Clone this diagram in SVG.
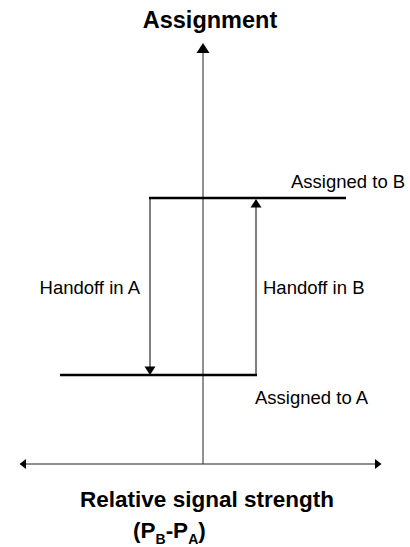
<svg xmlns="http://www.w3.org/2000/svg" width="410" height="547" viewBox="0 0 410 547">
  <style>
    .axis { stroke: #222; stroke-width: 1; fill: none; }
    .level { stroke: #000; stroke-width: 2.5; fill: none; }
    .jump { stroke: #000; stroke-width: 1; fill: none; }
    .head { fill: #000; stroke: none; }
    .title { font-family: "Liberation Sans", Arial, sans-serif; font-weight: bold; font-size: 23.5px; fill: #000; }
    .caption { font-family: "Liberation Sans", Arial, sans-serif; font-weight: bold; font-size: 22.5px; fill: #000; }
    .label { font-family: "Liberation Sans", Arial, sans-serif; font-size: 18.5px; fill: #000; }
    .sub { font-size: 14px; }
  </style>
  <rect width="410" height="547" fill="#fff"/>

  <!-- axes and hysteresis connectors -->
  <g id="connectors">
    <!-- vertical axis: Assignment -->
    <line class="axis" x1="203" y1="52" x2="203" y2="464"/>
    <polygon class="head" points="203,43 196.5,53 209.5,53"/>
    <!-- horizontal axis: relative signal strength -->
    <line class="axis" x1="25" y1="464" x2="376" y2="464"/>
    <polygon class="head" points="19.5,464 26,459 26,469"/>
    <polygon class="head" points="381.5,464 375,459 375,469"/>
    <!-- handoff in A: drop from B level to A level -->
    <line class="jump" x1="150" y1="198" x2="150" y2="367"/>
    <polygon class="head" points="150,375 144.5,366.5 155.5,366.5"/>
    <!-- handoff in B: rise from A level to B level -->
    <line class="jump" x1="256" y1="375" x2="256" y2="207"/>
    <polygon class="head" points="256,199 250.5,207.5 261.5,207.5"/>
  </g>

  <g id="level-b">
    <line class="level" x1="149" y1="198" x2="346" y2="198"/>
    <text class="label" x="291" y="188">Assigned to B</text>
  </g>

  <g id="level-a">
    <line class="level" x1="60" y1="375" x2="257" y2="375"/>
    <text class="label" x="255" y="404">Assigned to A</text>
  </g>

  <g id="handoff-a">
    <text class="label" x="140" y="294" text-anchor="end">Handoff in A</text>
  </g>

  <g id="handoff-b">
    <text class="label" x="263" y="294">Handoff in B</text>
  </g>

  <g id="axis-labels">
    <text class="title" x="210" y="28" text-anchor="middle">Assignment</text>
    <text class="caption" x="207" y="507" text-anchor="middle">Relative signal strength</text>
    <text class="caption" x="133" y="538">(P<tspan class="sub" dy="6">B</tspan><tspan dy="-6">-P</tspan><tspan class="sub" dy="6">A</tspan><tspan dy="-6">)</tspan></text>
  </g>
</svg>
